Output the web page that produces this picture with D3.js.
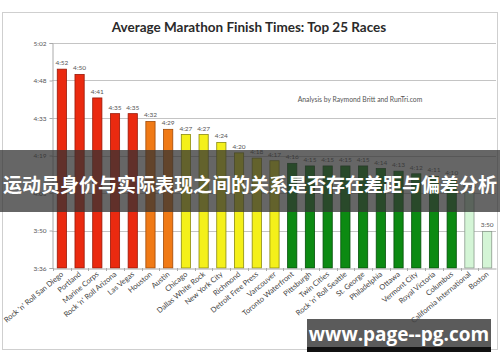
<!DOCTYPE html>
<html>
<head>
<meta charset="utf-8">
<script src="https://cdn.jsdelivr.net/npm/d3@7"></script>
<style>
  body { margin: 0; background: #fff; }
  svg { display: block; }
</style>
</head>
<body>
<script>
var races = ["Rock 'n' Roll San Diego", "Portland", "Marine Corps", "Rock 'n' Roll Arizona", "Las Vegas",
  "Houston", "Austin", "Chicago", "Dallas White Rock", "New York City", "Richmond", "Detroit Free Press",
  "Vancouver", "Toronto Waterfront", "Pittsburgh", "Twin Cities", "Rock 'n' Roll Seattle", "St. George",
  "Philadelphia", "Ottawa", "Vermont City", "Royal Victoria", "Columbus", "California International", "Boston"];
var times = ["4:52", "4:50", "4:41", "4:35", "4:35", "4:32", "4:29", "4:27", "4:27", "4:24", "4:20", "4:18",
  "4:17", "4:16", "4:15", "4:15", "4:15", "4:15", "4:14", "4:13", "4:12", "4:11", "4:10", "4:05", "3:50"];
var groups = ["red", "red", "red", "red", "red", "orange", "orange", "yellow", "yellow", "yellow", "yellow", "yellow",
  "yellow", "green", "green", "green", "green", "green", "green", "green", "green", "green", "green", "light", "light"];
var yTicks = ["3:36", "3:50", "4:05", "4:19", "4:33", "4:48", "5:02"];

var fills = { red: "#ea2a10", orange: "#f07a16", yellow: "#f4f01a", green: "#0c8a12", light: "#d4f5d6" };
var strokes = { red: "#9a1808", orange: "#a04a08", yellow: "#8a8a10", green: "#05500a", light: "#8a9a8c" };

function toMin(s) { var p = s.split(":"); return +p[0] * 60 + +p[1]; }

var width = 500, height = 362;

var svg = d3.select("body").append("svg")
  .attr("width", width)
  .attr("height", height);

// chart frame
svg.append("rect")
  .attr("x", 2.5).attr("y", 12.5)
  .attr("width", 495).attr("height", 337)
  .attr("fill", "#fff")
  .attr("stroke", "#cfcfcf");

svg.append("text")
  .attr("x", 249).attr("y", 32)
  .attr("text-anchor", "middle")
  .attr("font-family", "Lato")
  .attr("font-weight", "bold")
  .attr("font-size", 13.5)
  .attr("fill", "#2a2a2a")
  .text("Average Marathon Finish Times: Top 25 Races");

var x = d3.scaleBand()
  .domain(races)
  .range([53, 496])
  .paddingInner(0.48)
  .paddingOuter(0.24);

var yMin = toMin(yTicks[0]), yMax = toMin(yTicks[yTicks.length - 1]);
var y = d3.scaleLinear()
  .domain([yMin, yMax])
  .range([268, 43]);

// axis steps are even fractions of a minute, labels are the rounded times
var tickVals = yTicks.map(function (t, i) {
  return yMin + i * (yMax - yMin) / (yTicks.length - 1);
});

// gridlines
svg.append("g")
  .selectAll("line")
  .data(tickVals.slice(1))
  .enter()
  .append("line")
  .attr("x1", 52).attr("x2", 496)
  .attr("y1", function (d) { return Math.round(y(d)) + 0.5; })
  .attr("y2", function (d) { return Math.round(y(d)) + 0.5; })
  .attr("stroke", "#c4c4c4");

var yAxis = d3.axisLeft(y)
  .tickValues(tickVals)
  .tickSize(3)
  .tickFormat(function (d, i) { return yTicks[i]; });

var gy = svg.append("g")
  .attr("transform", "translate(52.5,0)")
  .call(yAxis);
gy.select(".domain").attr("stroke", "#aaa");
gy.selectAll(".tick line").attr("stroke", "#aaa");
gy.selectAll("text")
  .attr("font-family", "Lato")
  .attr("font-size", 6.5)
  .attr("fill", "#555");

// bars
svg.append("g")
  .selectAll("rect")
  .data(races)
  .enter()
  .append("rect")
  .attr("x", function (d) { return x(d); })
  .attr("y", function (d, i) { return y(toMin(times[i])); })
  .attr("width", x.bandwidth())
  .attr("height", function (d, i) { return y.range()[0] - y(toMin(times[i])); })
  .attr("fill", function (d, i) { return fills[groups[i]]; })
  .attr("stroke", function (d, i) { return strokes[groups[i]]; })
  .attr("stroke-width", 0.8);

// value labels
svg.append("g")
  .selectAll("text")
  .data(races)
  .enter()
  .append("text")
  .attr("x", function (d) { return x(d) + x.bandwidth() / 2; })
  .attr("y", function (d, i) { return y(toMin(times[i])) - 4; })
  .attr("text-anchor", "middle")
  .attr("font-family", "Lato")
  .attr("font-size", 6.5)
  .attr("fill", "#555")
  .text(function (d, i) { return times[i]; });

// x axis
var xAxis = d3.axisBottom(x).tickSize(0).tickFormat("");
var gx = svg.append("g")
  .attr("transform", "translate(0,268.5)")
  .call(xAxis);
gx.select(".domain").attr("stroke", "#aaa");

var step = x.step();
svg.append("g")
  .selectAll("line")
  .data(races)
  .enter()
  .append("line")
  .attr("x1", function (d) { return Math.round(x(d) - (step - x.bandwidth()) / 2) + 0.5; })
  .attr("x2", function (d) { return Math.round(x(d) - (step - x.bandwidth()) / 2) + 0.5; })
  .attr("y1", 268).attr("y2", 271)
  .attr("stroke", "#aaa");

svg.append("g")
  .selectAll("text")
  .data(races)
  .enter()
  .append("text")
  .attr("transform", function (d) {
    return "translate(" + (x(d) + x.bandwidth() / 2 + 2) + ",275) rotate(-40)";
  })
  .attr("text-anchor", "end")
  .attr("font-family", "Lato")
  .attr("font-size", 7.5)
  .attr("fill", "#444")
  .text(function (d) { return d; });

svg.append("text")
  .attr("x", 360).attr("y", 102)
  .attr("text-anchor", "middle")
  .attr("font-family", "Lato")
  .attr("font-size", 6.8)
  .attr("fill", "#555")
  .text("Analysis by Raymond Britt and RunTri.com");

// overlay banner
svg.append("rect")
  .attr("x", 0).attr("y", 150)
  .attr("width", 500).attr("height", 62)
  .attr("fill", "#333")
  .attr("opacity", 0.75);

svg.append("text")
  .attr("x", 250).attr("y", 192)
  .attr("text-anchor", "middle")
  .attr("font-family", "Noto Sans CJK SC")
  .attr("font-weight", "bold")
  .attr("font-size", 19)
  .attr("fill", "#fff")
  .text("运动员身价与实际表现之间的关系是否存在差距与偏差分析");

// watermark
svg.append("rect")
  .attr("x", 307).attr("y", 319)
  .attr("width", 184).attr("height", 29)
  .attr("fill", "#444")
  .attr("opacity", 0.88);
svg.append("rect")
  .attr("x", 307).attr("y", 347)
  .attr("width", 184).attr("height", 5)
  .attr("fill", "#111");
svg.append("text")
  .attr("x", 399).attr("y", 341)
  .attr("text-anchor", "middle")
  .attr("font-family", "Open Sans")
  .attr("font-weight", "bold")
  .attr("font-size", 19)
  .attr("fill", "#fff")
  .text("www.page--pg.com");
</script>
</body>
</html>
